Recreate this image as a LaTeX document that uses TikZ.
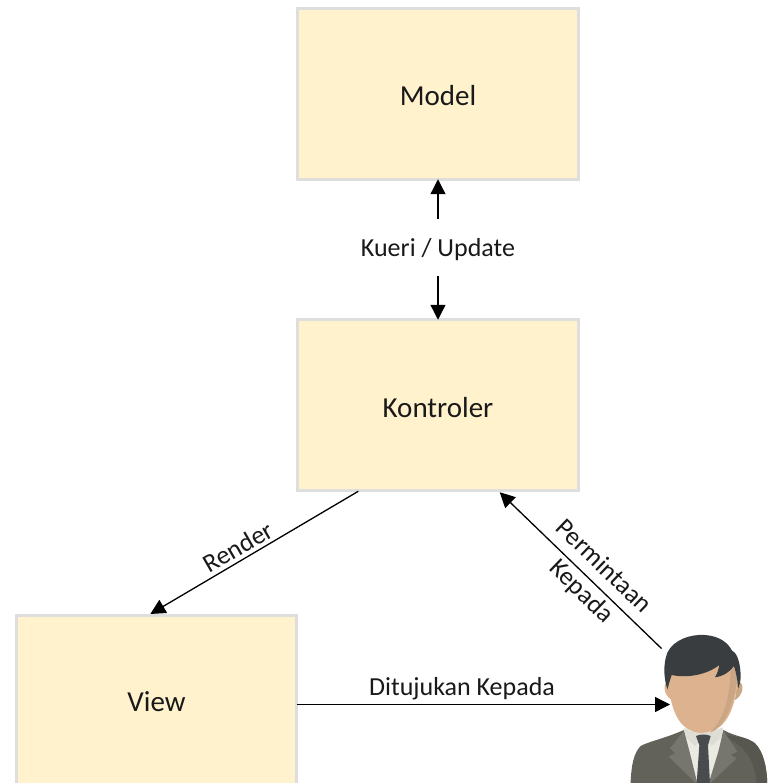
\documentclass[tikz,border=0pt]{standalone}
\usepackage{fontspec}
\setmainfont{Carlito}
\usetikzlibrary{arrows.meta,calc}
\definecolor{boxfill}{HTML}{FFF2CC}
\definecolor{boxline}{HTML}{DEDEDC}
\definecolor{hair}{HTML}{393D3F}
\definecolor{skin}{HTML}{DDB38F}
\definecolor{skinshade}{HTML}{CBA684}
\definecolor{suit}{HTML}{63625A}
\definecolor{suitdark}{HTML}{58574F}
\definecolor{lapel}{HTML}{76766E}
\definecolor{shirt}{HTML}{EAEAE2}
\definecolor{shirtshade}{HTML}{DEDDD5}
\definecolor{tie}{HTML}{4A4B4D}
\tikzset{
  mvcbox/.style={draw=boxline,fill=boxfill,line width=3pt,minimum width=280.5pt,minimum height=170.5pt,inner sep=0pt,outer sep=0pt,font=\fontsize{29}{32}\selectfont,text=black!90},
  lowered/.style={text height=24pt,text depth=0pt},
  lbl/.style={font=\fontsize{26}{30}\selectfont,text=black!90,inner sep=0pt},
  conn/.style={draw=black,line width=1.3pt,-{Triangle[length=15pt,width=15pt]},shorten >=0pt},
}
\begin{document}
\begin{tikzpicture}[x=1pt,y=-1pt]
\useasboundingbox (0,0) rectangle (767,783);
\clip (0,0) rectangle (767,783);
\fill[white] (0,0) rectangle (767,783);
\node[mvcbox,lowered] (model) at (438,94) {Model};
\node[mvcbox,lowered] (kontroler) at (438,405) {Kontroler};
\node[mvcbox,minimum height=174pt] (view) at (156.5,702) {View};

\node[lbl,minimum height=57pt,text height=24pt,text depth=6pt] (kueri) at (438,247.5) {Kueri / Update};
\draw[conn] (kueri.north) -- (kueri.north |- model.south);
\draw[conn] (kueri.south) -- (kueri.south |- kontroler.north);

\coordinate (personleft) at (670,704.5);
\coordinate (personhead) at (661.5,648.5);
\coordinate (kout) at ($(kontroler.south west)!0.216!(kontroler.south east)+(0,1)$);
\coordinate (vin) at ($(view.north west)!0.478!(view.north east)+(0,-1)$);
\coordinate (kin) at ($(kontroler.south west)!0.72!(kontroler.south east)+(0,2)$);
\draw[conn] (kout) -- (vin);
\node[lbl,rotate=30] (render) at (238,547) {Render};
\draw[conn] (personhead) -- (kin);
\node[lbl,rotate=-44] (perm) at (604.5,565.5) {Permintaan};
\node[lbl,rotate=-44] (kep) at (581,592) {Kepada};
\draw[conn] (view.east |- personleft) -- (personleft);
\node[lbl] (dit) at (462,688.5) {Ditujukan Kepada};

% person (coordinates are in the 3x crop of the figure)
\begin{scope}[shift={(610,620)},x=0.3333pt,y=-0.3333pt]
 % body
 \fill[suit] (62,484) .. controls (64,440) and (70,400) .. (92,378)
   .. controls (115,365) and (165,355) .. (222,330) -- (340,330)
   .. controls (375,350) and (410,350) .. (435,370)
   .. controls (460,395) and (470,440) .. (472,490) -- (62,490) -- cycle;
 \fill[suitdark] (345,345) .. controls (375,350) and (410,350) .. (435,370)
   .. controls (460,395) and (470,440) .. (472,490) -- (440,490)
   .. controls (435,440) and (420,400) .. (385,375) -- cycle;
 % shirt
 \fill[shirt] (220,325) -- (340,325) -- (330,400) -- (300,490) -- (262,490) -- (235,400) -- cycle;
 \fill[shirtshade] (222,325) .. controls (255,345) and (300,345) .. (338,322) -- (335,350) -- (305,378) -- (280,350) -- (255,378) -- (228,352) -- cycle;
 % lapels
 \fill[lapel] (222,332) -- (180,385) -- (196,400) -- (176,410) -- (258,490) -- (262,490) -- (240,400) -- cycle;
 \fill[lapel] (340,332) -- (382,395) -- (362,405) -- (380,415) -- (300,490) -- (296,490) -- (325,395) -- cycle;
 % tie
 \fill[tie] (258,348) .. controls (270,342) and (290,342) .. (302,348) -- (294,376) -- (300,490) -- (260,490) -- (268,376) -- cycle;
 % ears
 \fill[skin] (178,185) .. controls (155,185) and (160,225) .. (185,240) -- cycle;
 \fill[skinshade] (382,185) .. controls (405,185) and (402,225) .. (375,240) -- cycle;
 % face
 \fill[skin] (178,170) .. controls (175,240) and (195,310) .. (240,330)
   .. controls (265,345) and (300,340) .. (330,320)
   .. controls (365,290) and (385,230) .. (382,140) -- (300,110) -- cycle;
 \fill[skinshade] (362,130) .. controls (362,210) and (350,290) .. (300,338)
   .. controls (345,325) and (385,230) .. (382,140) -- cycle;
 % hair
 \fill[hair] (172,208) .. controls (160,170) and (160,130) .. (172,98)
   .. controls (190,60) and (240,42) .. (285,45)
   .. controls (330,48) and (355,70) .. (366,92)
   .. controls (385,100) and (392,140) .. (392,170)
   .. controls (392,185) and (388,195) .. (385,205)
   .. controls (382,180) and (378,155) .. (372,138)
   .. controls (355,160) and (335,170) .. (315,172)
   .. controls (322,160) and (326,148) .. (328,135)
   .. controls (290,165) and (230,175) .. (185,165)
   .. controls (180,180) and (176,195) .. (172,208) -- cycle;
\end{scope}
\end{tikzpicture}
\end{document}
